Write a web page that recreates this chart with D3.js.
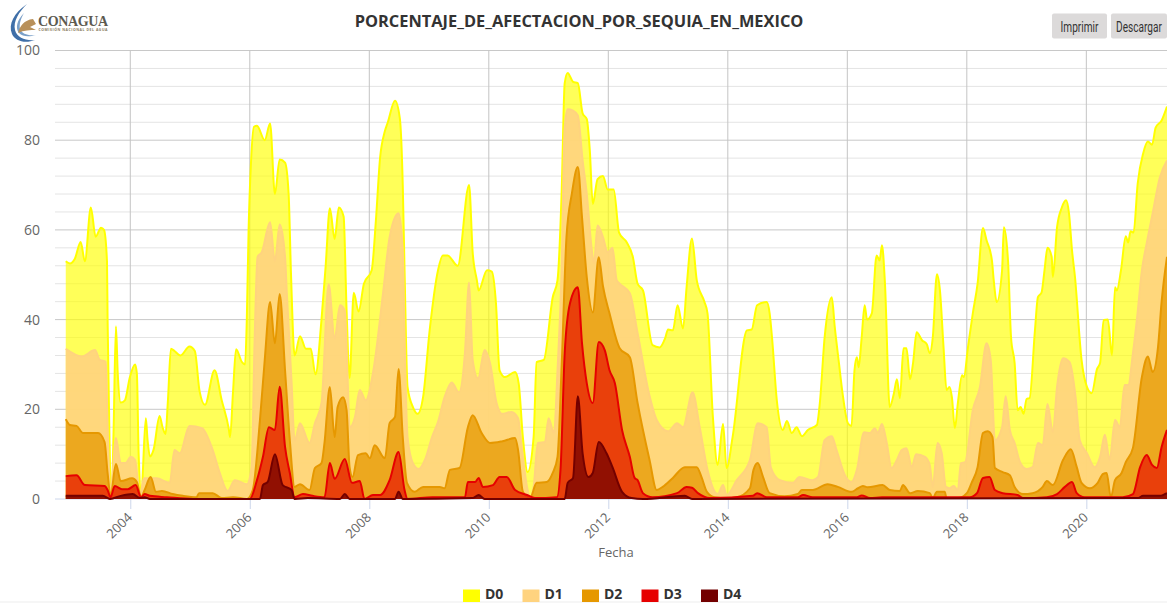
<!DOCTYPE html>
<html>
<head>
<meta charset="utf-8">
<script src="https://cdnjs.cloudflare.com/ajax/libs/d3/7.8.5/d3.min.js"></script>
<style>
  body { margin: 0; background: #fff; font-family: "Open Sans", sans-serif; }
  svg { display: block; }
  .axis path { display: none; }
  .axis text { fill: #666; font-family: "Open Sans", sans-serif; }
</style>
</head>
<body>
<div id="chart"></div>
<script>
// values: [decimal year, percent]
const d0 = [[2002.92,53],[2002.99,52.5],[2003.07,53.5],[2003.17,57.3],[2003.24,53],[2003.34,65],[2003.42,58.5],[2003.51,60.5],[2003.56,60],[2003.61,53],[2003.62,40],[2003.66,8],[2003.67,1],[2003.69,0.5],[2003.72,15],[2003.76,38.5],[2003.79,28],[2003.84,21.5],[2003.91,22],[2003.99,27],[2004.08,30],[2004.11,28],[2004.14,10],[2004.19,0.5],[2004.21,6],[2004.26,18],[2004.29,13],[2004.33,9.5],[2004.39,11],[2004.49,18.5],[2004.54,16],[2004.59,14.5],[2004.63,22],[2004.68,33.5],[2004.74,33],[2004.84,32],[2004.99,34],[2005.08,33],[2005.16,24],[2005.25,21],[2005.41,28.7],[2005.53,22],[2005.65,15.5],[2005.67,13.8],[2005.72,24],[2005.77,33.4],[2005.87,30.5],[2005.92,30],[2005.95,40],[2005.98,60],[2006.02,75],[2006.07,83],[2006.12,83.2],[2006.25,80],[2006.34,83.7],[2006.42,68],[2006.50,75.7],[2006.59,75],[2006.65,68],[2006.69,50],[2006.75,32],[2006.84,36.3],[2006.94,33.5],[2007.02,33.5],[2007.10,27.8],[2007.20,40],[2007.27,52],[2007.34,64.8],[2007.42,58],[2007.49,65],[2007.57,63],[2007.62,42],[2007.67,27],[2007.74,46],[2007.82,41.8],[2007.91,48],[2008.04,51],[2008.11,62],[2008.18,76],[2008.26,82],[2008.31,84],[2008.43,88.8],[2008.51,85],[2008.56,70],[2008.59,51],[2008.64,25],[2008.73,20.5],[2008.81,19],[2008.90,22.7],[2009.01,37.6],[2009.15,51],[2009.23,54.3],[2009.31,54.3],[2009.48,52],[2009.67,70],[2009.73,55],[2009.80,48.8],[2009.83,46.5],[2009.97,51],[2010.05,50.7],[2010.12,43.6],[2010.18,28.7],[2010.27,27.2],[2010.44,28.3],[2010.50,25.8],[2010.57,13.8],[2010.65,6],[2010.75,13.8],[2010.80,30.5],[2010.92,31],[2011.07,45],[2011.15,48.8],[2011.22,68.8],[2011.27,92.7],[2011.32,95],[2011.41,93],[2011.49,92.7],[2011.57,86],[2011.64,84.7],[2011.69,77.8],[2011.74,65.8],[2011.82,71.3],[2011.91,72],[2011.99,69],[2012.09,69],[2012.18,59.4],[2012.31,57.2],[2012.41,54],[2012.49,48],[2012.58,46.5],[2012.74,34.3],[2012.86,33.8],[2012.95,35.8],[2013.00,37.8],[2013.08,37.6],[2013.16,43.2],[2013.25,38],[2013.31,47.2],[2013.40,58.1],[2013.48,48.8],[2013.61,43.9],[2013.66,41.4],[2013.75,18.3],[2013.83,7.6],[2013.92,16.7],[2013.98,6.9],[2014.08,13.8],[2014.32,37.6],[2014.40,37.8],[2014.49,43.2],[2014.65,43.9],[2014.70,41.4],[2014.74,36],[2014.82,22],[2014.92,15.4],[2014.99,17.4],[2015.07,14.7],[2015.15,16],[2015.24,14],[2015.34,15.4],[2015.49,16.5],[2015.54,21.4],[2015.62,36],[2015.74,45],[2015.79,38.3],[2015.86,30.3],[2015.92,23.6],[2016.01,16.9],[2016.07,16.3],[2016.12,28.7],[2016.16,31.6],[2016.19,29.4],[2016.24,36],[2016.29,43.2],[2016.33,40],[2016.41,41.4],[2016.49,54.3],[2016.54,53.2],[2016.58,56.6],[2016.63,48],[2016.71,20.5],[2016.78,23.6],[2016.83,26.7],[2016.88,22.5],[2016.94,33.6],[2016.99,33.6],[2017.05,26.7],[2017.10,30.3],[2017.16,37.2],[2017.25,35.4],[2017.33,34.5],[2017.38,32.5],[2017.43,36],[2017.50,50.1],[2017.55,46.5],[2017.61,33.9],[2017.66,24.3],[2017.71,25],[2017.75,22.7],[2017.80,15.8],[2017.85,21.4],[2017.92,27.6],[2017.95,27.2],[2018.02,33.9],[2018.10,41.4],[2018.18,48],[2018.27,60.4],[2018.33,57.7],[2018.42,53.2],[2018.45,48.8],[2018.50,43.9],[2018.59,51],[2018.62,60.6],[2018.69,53],[2018.74,36],[2018.80,30.3],[2018.85,19.8],[2018.90,20.5],[2018.95,19],[2019.00,22.3],[2019.05,22.5],[2019.14,37.6],[2019.19,45],[2019.25,46],[2019.30,51],[2019.35,56],[2019.42,54],[2019.44,49.5],[2019.51,60.6],[2019.59,65],[2019.66,66.6],[2019.71,63.7],[2019.76,55.5],[2019.81,49.5],[2019.92,31],[2020.01,25],[2020.09,23.6],[2020.18,29],[2020.23,30.3],[2020.29,39.9],[2020.36,40],[2020.43,32],[2020.48,47.2],[2020.51,46.5],[2020.58,51],[2020.66,58.6],[2020.70,57.2],[2020.74,59.7],[2020.79,59.4],[2020.86,70.4],[2020.95,77],[2021.03,79.7],[2021.10,79],[2021.16,82.8],[2021.26,84.4],[2021.35,87.5]];
const d1 = [[2002.92,33.5],[2003.19,31.8],[2003.41,33.2],[2003.49,31],[2003.59,30.6],[2003.62,16],[2003.67,1.3],[2003.76,13.6],[2003.84,8],[2003.92,8],[2004.01,9.4],[2004.08,8.7],[2004.16,0.9],[2004.23,4.6],[2004.44,4.6],[2004.66,3.6],[2004.74,10.9],[2004.83,10.2],[2004.99,16.3],[2005.20,15.8],[2005.38,10.9],[2005.50,5.7],[2005.63,1.8],[2005.75,4.2],[2005.95,3.3],[2006.03,7.1],[2006.08,35],[2006.13,54],[2006.20,55],[2006.34,61.7],[2006.42,53],[2006.50,61.2],[2006.59,54],[2006.62,45.9],[2006.70,25.8],[2006.75,13],[2006.84,16.9],[2007.00,12.5],[2007.09,16.9],[2007.20,21.4],[2007.32,47.9],[2007.42,35.8],[2007.51,43.2],[2007.59,42],[2007.64,25.8],[2007.67,16],[2007.76,18.3],[2007.84,24.3],[2007.94,22],[2008.06,28],[2008.23,45.9],[2008.34,58.4],[2008.49,63.7],[2008.56,55.4],[2008.59,36],[2008.64,13.8],[2008.73,8],[2008.83,6.7],[2008.93,8.7],[2009.05,13.8],[2009.15,17.2],[2009.26,22.7],[2009.38,26],[2009.50,23.8],[2009.60,32.5],[2009.67,48.3],[2009.73,31],[2009.82,26.9],[2009.93,33.2],[2010.02,30.3],[2010.13,21.4],[2010.22,19],[2010.38,19.4],[2010.49,18],[2010.55,11.6],[2010.64,2.7],[2010.69,0.4],[2010.75,2.7],[2010.82,12.5],[2010.94,12.7],[2011.00,18],[2011.09,14.7],[2011.15,28.7],[2011.22,51.7],[2011.27,82.8],[2011.32,86.9],[2011.41,86.6],[2011.49,85.5],[2011.57,75.5],[2011.64,68],[2011.72,56],[2011.76,52.5],[2011.82,61],[2011.91,58.4],[2011.99,55],[2012.07,56],[2012.14,48.8],[2012.19,48],[2012.36,45.9],[2012.49,37],[2012.69,23],[2012.81,17.6],[2013.00,15.1],[2013.15,16.9],[2013.25,16],[2013.41,23.8],[2013.53,16],[2013.66,6.5],[2013.83,1.1],[2013.92,3.1],[2013.98,0.9],[2014.15,4.2],[2014.37,8.7],[2014.50,16.9],[2014.65,16],[2014.72,7],[2014.87,4.2],[2015.09,3.6],[2015.20,4.9],[2015.42,4.2],[2015.51,4.9],[2015.62,13.1],[2015.74,14],[2015.82,10.9],[2015.96,5.3],[2016.07,3.8],[2016.16,6.5],[2016.28,14.9],[2016.38,14.7],[2016.46,15.8],[2016.51,14.7],[2016.58,16.7],[2016.66,12.5],[2016.74,6.9],[2016.83,8.7],[2016.91,10.9],[2016.99,11.3],[2017.08,7.1],[2017.15,10],[2017.30,9.4],[2017.38,7.6],[2017.43,2.7],[2017.51,12.5],[2017.58,10.2],[2017.65,2.7],[2017.71,2.4],[2017.78,2.9],[2017.85,2],[2017.90,8],[2017.97,8.2],[2018.10,19.8],[2018.22,25],[2018.33,34.7],[2018.40,31],[2018.47,13.1],[2018.59,16],[2018.65,22.9],[2018.72,15.4],[2018.80,12.5],[2018.89,8.2],[2019.00,6.7],[2019.10,7.1],[2019.19,12.5],[2019.27,12],[2019.35,21.2],[2019.44,14.9],[2019.51,25],[2019.61,31.4],[2019.72,30.5],[2019.82,22.7],[2019.89,13.1],[2020.01,10.2],[2020.14,7.1],[2020.23,9.4],[2020.31,14.3],[2020.39,8.7],[2020.48,17.6],[2020.56,16],[2020.64,25.4],[2020.70,25.4],[2020.78,32.5],[2020.85,40.5],[2020.93,51],[2021.01,57],[2021.11,63.7],[2021.23,71.7],[2021.35,75.5]];
const d2 = [[2002.92,17.8],[2002.99,16.5],[2003.10,16.3],[2003.21,14.7],[2003.46,14.7],[2003.57,12.7],[2003.62,5.8],[2003.67,0.9],[2003.76,7.8],[2003.84,4],[2004.03,4.6],[2004.11,3.8],[2004.18,0.4],[2004.24,2],[2004.34,4.9],[2004.43,1.6],[2004.53,1.8],[2004.71,1.1],[2004.88,0.7],[2005.11,0.4],[2005.15,1.3],[2005.38,1.3],[2005.53,0.2],[2005.72,0.4],[2005.95,0],[2006.05,2],[2006.17,17.6],[2006.25,31],[2006.34,43.9],[2006.42,34.7],[2006.50,45.7],[2006.59,28.7],[2006.67,13.1],[2006.75,2.7],[2006.84,3.3],[2007.00,2],[2007.09,6.9],[2007.20,8],[2007.25,12.5],[2007.34,25],[2007.42,13.8],[2007.47,20.5],[2007.56,22.7],[2007.62,19.8],[2007.67,7.1],[2007.72,4.9],[2007.81,9.8],[2007.94,10.2],[2008.01,9.1],[2008.09,12],[2008.26,9.1],[2008.34,16.9],[2008.43,18.3],[2008.49,29],[2008.56,13.8],[2008.63,3.6],[2008.76,1.6],[2008.90,2.7],[2009.18,2.7],[2009.26,2.4],[2009.35,6.5],[2009.51,6.9],[2009.65,16],[2009.73,18.7],[2009.88,14.7],[2010.02,12.5],[2010.23,12.9],[2010.44,13.6],[2010.49,10.9],[2010.57,1.6],[2010.69,0.2],[2010.80,3.6],[2010.97,3.8],[2011.07,5.8],[2011.15,9.4],[2011.22,30],[2011.30,58.4],[2011.39,68.1],[2011.49,74],[2011.56,62.8],[2011.64,49.4],[2011.74,41.6],[2011.84,53.9],[2011.91,47.5],[2012.02,41.4],[2012.19,33.6],[2012.36,31.6],[2012.49,21.4],[2012.69,8.7],[2012.81,2],[2012.91,2.7],[2013.08,4.7],[2013.28,7.1],[2013.48,7.1],[2013.56,4.9],[2013.65,1.6],[2013.78,0.4],[2013.98,0.2],[2014.15,0.4],[2014.37,2.4],[2014.43,6.5],[2014.50,8],[2014.59,4.9],[2014.70,1.3],[2014.95,0.6],[2015.17,1.1],[2015.24,2],[2015.42,2],[2015.67,3.3],[2015.84,2.7],[2016.07,1.6],[2016.18,2.4],[2016.26,2.9],[2016.34,2.6],[2016.59,3.1],[2016.71,2],[2016.88,1.8],[2016.93,3.1],[2017.05,1.3],[2017.18,1.8],[2017.38,1.3],[2017.43,0.2],[2017.50,1.6],[2017.63,1.6],[2017.66,0.2],[2017.85,0.2],[2018.00,1.3],[2018.08,3.6],[2018.18,7.1],[2018.27,14.7],[2018.35,15.1],[2018.43,13.8],[2018.47,6.9],[2018.60,6],[2018.72,5.3],[2018.80,2.7],[2018.94,1.1],[2019.10,1.3],[2019.27,2.7],[2019.34,4],[2019.44,3.1],[2019.61,8.7],[2019.74,11.1],[2019.84,7.1],[2019.92,3.6],[2020.06,2.4],[2020.19,3.6],[2020.28,5.6],[2020.34,5.8],[2020.41,0.4],[2020.48,4.2],[2020.59,5.8],[2020.66,8.2],[2020.78,11.4],[2020.93,27.2],[2021.03,31.8],[2021.11,28.3],[2021.20,33.9],[2021.26,44],[2021.35,54]];
const d3s = [[2002.92,5.1],[2003.10,5.3],[2003.24,3.1],[2003.57,2.9],[2003.62,2],[2003.67,0.4],[2003.74,2.9],[2003.86,2.2],[2003.96,2.2],[2004.09,3.1],[2004.18,0.4],[2004.24,1.1],[2004.33,0.7],[2004.61,0.4],[2005.05,0],[2006.00,0],[2006.12,4.2],[2006.22,9.4],[2006.32,16],[2006.42,15.4],[2006.50,25],[2006.59,11.6],[2006.67,5.8],[2006.75,0.4],[2006.89,1.1],[2007.05,0.7],[2007.25,0.4],[2007.34,8],[2007.42,4.5],[2007.59,8.9],[2007.71,3.6],[2007.84,4],[2007.92,0],[2008.06,0.9],[2008.18,0.9],[2008.34,4.2],[2008.49,10.5],[2008.59,2],[2008.64,0],[2009.06,0.4],[2009.60,0.4],[2009.65,3.8],[2009.77,3.8],[2009.83,4.7],[2009.90,2.7],[2010.07,3.1],[2010.18,4.9],[2010.30,4.9],[2010.44,2],[2010.64,0.9],[2010.77,0.2],[2011.14,0.4],[2011.20,6.5],[2011.27,32.5],[2011.36,43.7],[2011.49,47.2],[2011.56,34.7],[2011.64,25.8],[2011.74,21.4],[2011.84,35],[2011.94,33.2],[2012.02,28.7],[2012.11,25.8],[2012.23,15.4],[2012.36,9.4],[2012.44,4.7],[2012.49,4.2],[2012.58,1.3],[2012.74,0.4],[2013.15,1.3],[2013.31,2.7],[2013.40,2.5],[2013.50,1.3],[2013.70,0.2],[2014.42,0.7],[2014.49,1.3],[2014.65,0.4],[2015.17,0.4],[2015.26,0.9],[2015.42,0.4],[2016.16,0.4],[2016.24,0.8],[2016.38,0.2],[2016.58,0.4],[2018.05,0.4],[2018.17,1.3],[2018.27,4.7],[2018.38,4.9],[2018.47,2],[2018.60,1.3],[2018.85,0.9],[2018.94,0.2],[2019.34,0.4],[2019.51,1.1],[2019.64,2.7],[2019.76,3.8],[2019.84,1.3],[2019.97,0.4],[2020.61,0.4],[2020.78,1.1],[2020.90,7.1],[2021.01,9.8],[2021.10,7.6],[2021.18,6.9],[2021.26,11.6],[2021.35,15.4]];
const d4 = [[2002.92,0.7],[2003.54,0.7],[2003.66,0],[2003.84,0.7],[2004.04,1.1],[2004.16,0.2],[2004.24,0.4],[2004.33,0],[2006.17,0],[2006.22,3.1],[2006.30,3.8],[2006.42,10],[2006.55,3.1],[2006.70,2],[2006.75,0],[2006.97,0.2],[2007.51,0],[2007.59,1.1],[2007.67,0],[2008.43,0],[2008.49,1.6],[2008.56,0],[2009.73,0.2],[2009.83,0.9],[2009.93,0],[2011.27,0],[2011.32,3.6],[2011.41,4.7],[2011.49,22.9],[2011.57,10.2],[2011.67,4.9],[2011.74,5.8],[2011.84,12.7],[2011.97,10.2],[2012.07,7.1],[2012.23,1.6],[2012.39,0.2],[2012.58,0],[2013.28,0.7],[2013.40,0],[2020.86,0.2],[2020.95,0.7],[2021.23,0.7],[2021.35,1.3]];

const seriesNames = ["D0", "D1", "D2", "D3", "D4"];
const seriesValues = [d0, d1, d2, d3s, d4];
const seriesColors = ["#ffff00", "#ffd37f", "#e69800", "#e60000", "#730000"];
const seriesOpacity = [0.65, 0.9, 0.75, 0.62, 0.75];
const yTicks = [0, 20, 40, 60, 80, 100];
const yMinor = [4, 8, 12, 16, 24, 28, 32, 36, 44, 48, 52, 56, 64, 68, 72, 76, 84, 88, 92, 96];
const xTicks = [2004, 2006, 2008, 2010, 2012, 2014, 2016, 2018, 2020];

var width = 1167, height = 603;
var plot = { left: 55, right: 1167, top: 50.5, bottom: 499 };

var svg = d3.select("#chart").append("svg")
  .attr("width", width)
  .attr("height", height);

var x = d3.scaleLinear().domain([2002.74, 2021.35]).range([plot.left, plot.right]);
var y = d3.scaleLinear().domain([0, 100]).range([plot.bottom, plot.top]);

// faint strip along the bottom of the page
svg.append("rect").attr("x", 0).attr("y", 601).attr("width", width).attr("height", 2).attr("fill", "#f6f6f6");

// horizontal grid, minor first
svg.append("g").selectAll("line").data(yMinor).enter().append("line")
  .attr("x1", plot.left).attr("x2", plot.right)
  .attr("y1", d => y(d)).attr("y2", d => y(d))
  .attr("stroke", "#e4e4e4").attr("stroke-width", 1);
svg.append("g").selectAll("line").data(yTicks).enter().append("line")
  .attr("x1", plot.left).attr("x2", plot.right)
  .attr("y1", d => y(d)).attr("y2", d => y(d))
  .attr("stroke", d => d == 0 ? "#ccd6eb" : "#c8c8c8").attr("stroke-width", 1);

// vertical grid
svg.append("g").selectAll("line").data(xTicks).enter().append("line")
  .attr("x1", d => x(d)).attr("x2", d => x(d))
  .attr("y1", plot.top).attr("y2", plot.bottom)
  .attr("stroke", "#c4c4c4").attr("stroke-width", 1);

// axes
var xAxis = svg.append("g").attr("class", "axis")
  .attr("transform", "translate(0," + plot.bottom + ")")
  .call(d3.axisBottom(x).tickValues(xTicks).tickFormat(d3.format("d")).tickSize(10));
xAxis.selectAll("line").attr("stroke", "#ccd6eb");
xAxis.selectAll("text")
  .attr("font-size", 13)
  .attr("y", 0)
  .attr("dy", ".35em")
  .attr("transform", "translate(-1,16)rotate(-45)")
  .style("text-anchor", "end");

var yAxis = svg.append("g").attr("class", "axis")
  .attr("transform", "translate(" + plot.left + ",0)")
  .call(d3.axisLeft(y).tickValues(yTicks).tickSize(0).tickPadding(15));
yAxis.selectAll("text").attr("font-size", 14);

// one area and one line per drought level
var area = d3.area().x(d => x(d[0])).y0(y(0)).y1(d => y(d[1])).curve(d3.curveMonotoneX);
var line = d3.line().x(d => x(d[0])).y(d => y(d[1])).curve(d3.curveMonotoneX);

seriesValues.forEach(function (values, i) {
  svg.append("path").attr("d", area(values))
    .attr("fill", seriesColors[i]).attr("fill-opacity", seriesOpacity[i]);
  svg.append("path").attr("d", line(values))
    .attr("fill", "none").attr("stroke", seriesColors[i]).attr("stroke-width", 2);
});

// title
svg.append("text").attr("x", 579).attr("y", 27)
  .attr("text-anchor", "middle")
  .style("font-weight", "bold").style("font-size", "16.4px").attr("fill", "#333")
  .text("PORCENTAJE_DE_AFECTACION_POR_SEQUIA_EN_MEXICO");

// x label
svg.append("text").attr("x", 616).attr("y", 557)
  .attr("text-anchor", "middle").style("font-size", "13px").attr("fill", "#666")
  .text("Fecha");

// buttons, the text squeezed sideways since the original face is condensed
var buttons = [["Imprimir", 1052, 55], ["Descargar", 1111, 56]];
buttons.forEach(function (b) {
  svg.append("rect").attr("x", b[1]).attr("y", 13.5).attr("width", b[2]).attr("height", 25)
    .attr("rx", 2).attr("fill", "#dcdada");
  svg.append("text")
    .attr("transform", "translate(" + (b[1] + b[2] / 2) + ",32)scale(0.72,1)")
    .attr("text-anchor", "middle")
    .style("font-family", "Roboto, sans-serif")
    .style("font-size", "14px").attr("fill", "#333").text(b[0]);
});

// legend
var legendX = [463, 522.5, 582, 641.5, 701];
seriesNames.forEach(function (name, i) {
  svg.append("rect").attr("x", legendX[i]).attr("y", 589.5).attr("width", 17).attr("height", 12.5)
    .attr("fill", seriesColors[i]);
  svg.append("text").attr("x", legendX[i] + 22).attr("y", 599)
    .style("font-weight", "bold").style("font-size", "14px").attr("fill", "#333")
    .text(name);
});

// logo
var logo = svg.append("g");
logo.append("path").attr("d", "M27 4 C14 13 8 24 12 34 C15 41 25 44 35 40 C26 41 17 38 15 30 C13 21 19 12 27 4Z").attr("fill", "#3f6fa8");
logo.append("path").attr("d", "M24 13 C17 20 15 28 19 33 C23 37 29 37 36 35 C28 36 22 34 20 29 C19 24 21 18 24 13Z").attr("fill", "#7ba0c8");
logo.append("path").attr("d", "M18 33 C20 26 24 20 33 19 L36 24 L30 27 L36 30 C30 30 24 30 18 33Z").attr("fill", "#b8905a");
logo.append("text").attr("x", 38).attr("y", 26)
  .style("font-family", "'Liberation Serif', serif").style("font-weight", "bold").style("font-size", "14px")
  .attr("fill", "#5d5a50").attr("textLength", 70).text("CONAGUA");
logo.append("text").attr("x", 38.5).attr("y", 31)
  .style("font-size", "3.5px").style("font-weight", "bold")
  .attr("fill", "#8a7a5e").attr("textLength", 69).text("COMISIÓN NACIONAL DEL AGUA");
</script>
</body>
</html>
